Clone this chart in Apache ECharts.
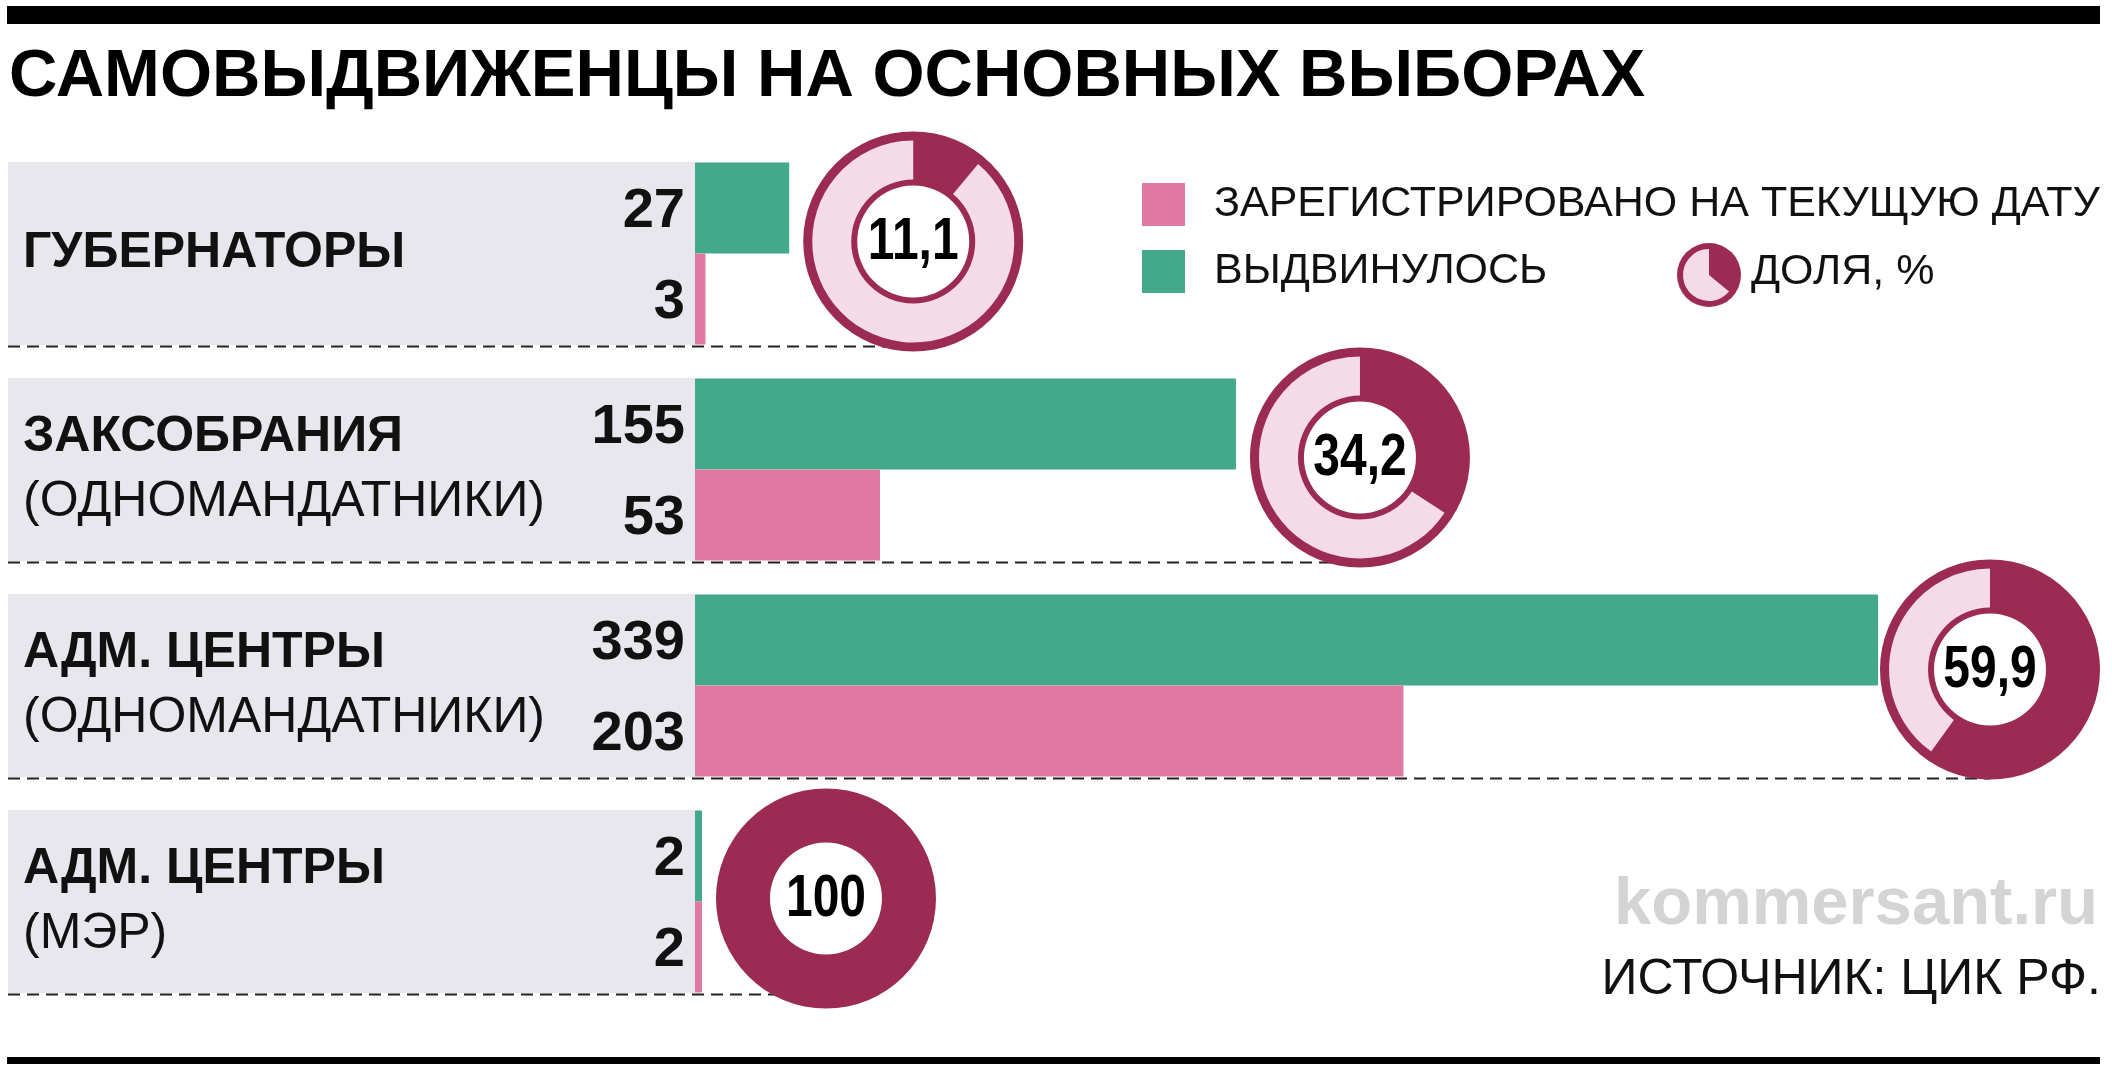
<!DOCTYPE html>
<html>
<head>
<meta charset="utf-8">
<script src="https://cdn.jsdelivr.net/npm/echarts@6/dist/echarts.min.js"></script>
<style>
html,body{margin:0;padding:0;background:#fff;}
#chart{width:2112px;height:1074px;}
</style>
</head>
<body>
<div id="chart"></div>
<script>
// ---- data ----
const categoriesMain = ['ГУБЕРНАТОРЫ', 'ЗАКСОБРАНИЯ', 'АДМ. ЦЕНТРЫ', 'АДМ. ЦЕНТРЫ'];
const categoriesSub = ['', '(ОДНОМАНДАТНИКИ)', '(ОДНОМАНДАТНИКИ)', '(МЭР)'];
const nominated = [27, 155, 339, 2];
const registered = [3, 53, 203, 2];
const shares = [11.1, 34.2, 59.9, 100];
const shareLabels = ['11,1', '34,2', '59,9', '100'];
const legendShare = [36, 64];
const titleText = 'САМОВЫДВИЖЕНЦЫ НА ОСНОВНЫХ ВЫБОРАХ';
const regName = 'ЗАРЕГИСТРИРОВАНО НА ТЕКУЩУЮ ДАТУ';
const nomName = 'ВЫДВИНУЛОСЬ';
const shareName = 'ДОЛЯ, %';
const sourceText = 'ИСТОЧНИК: ЦИК РФ.';
const brandText = 'kommersant.ru';

// ---- style ----
const FONT = '"Liberation Sans", Arial, sans-serif';
const GREEN = '#44a98b';
const PINK = '#df78a3';
const GRAY = '#e7e7ed';
const DARK = '#9b2b52';
const LIGHT = '#f4dbe6';
const PANEL_LEFT = 8;
const PANEL_H = 183;
const R_OUT = 110, R_RING_OUT = 101, R_RING_IN = 62, R_IN = 56;
const DONUT_DY = [-12, -12, -16, -3];

const chart = echarts.init(document.getElementById('chart'), null, {renderer: 'canvas'});
let dashEnd = [null, null, null, null];

function panelSeries() {
  return {
    type: 'custom',
    z: -1,
    clip: false,
    silent: true,
    encode: {x: 0, y: 1},
    data: categoriesMain.map((_, i) => [0, i]),
    renderItem: function (params, api) {
      const i = api.value(1);
      const c = api.coord([0, i]);
      const top = c[1] - PANEL_H / 2;
      const x2 = dashEnd[i] != null ? dashEnd[i] : c[0] + 60;
      return {
        type: 'group',
        children: [
          {type: 'rect', shape: {x: PANEL_LEFT, y: top, width: c[0] - PANEL_LEFT, height: PANEL_H}, style: {fill: GRAY}},
          {type: 'line', shape: {x1: PANEL_LEFT, y1: top + PANEL_H + 1.5, x2: x2, y2: top + PANEL_H + 1.5},
           style: {stroke: '#222', lineWidth: 2, lineDash: [12, 7]}}
        ]
      };
    }
  };
}

const baseGraphic = [
  {type: 'rect', shape: {x: 7, y: 6, width: 2093, height: 18}, style: {fill: '#000'}},
  {type: 'rect', shape: {x: 7, y: 1057, width: 2093, height: 7}, style: {fill: '#000'}},
  {type: 'text', x: 9, y: 78, style: {text: titleText, fontFamily: FONT, fontWeight: 'bold', fontSize: 67, fill: '#000', verticalAlign: 'middle'}},
  {type: 'text', x: 1751, y: 272, style: {text: shareName, fontFamily: FONT, fontSize: 43, fill: '#111', verticalAlign: 'middle'}},
  {type: 'text', x: 2098, y: 906, style: {text: brandText, fontFamily: FONT, fontWeight: 'bold', fontSize: 67, fill: '#d4d4d4', align: 'right', verticalAlign: 'middle'}},
  {type: 'text', x: 2101, y: 980, style: {text: sourceText, fontFamily: FONT, fontSize: 50, fill: '#111', align: 'right', verticalAlign: 'middle'}}
];

const baseOption = {
  backgroundColor: '#fff',
  animation: false,
  grid: {left: 695, top: 145.5, width: 1396, height: 864, containLabel: false},
  xAxis: {type: 'value', min: 0, max: 400, show: false},
  yAxis: {
    type: 'category',
    inverse: true,
    data: categoriesMain,
    z: 5,
    axisLine: {show: false},
    axisTick: {show: false},
    splitLine: {show: false},
    axisLabel: {
      align: 'left',
      margin: 672,
      formatter: function (v, idx) {
        return categoriesSub[idx] ? '{b|' + v + '}\n{r|' + categoriesSub[idx] + '}' : '{b|' + v + '}';
      },
      rich: {
        b: {fontFamily: FONT, fontWeight: 'bold', fontSize: 50, color: '#111', lineHeight: 65},
        r: {fontFamily: FONT, fontWeight: 'normal', fontSize: 50, color: '#111', lineHeight: 65}
      }
    }
  },
  legend: {
    orient: 'vertical',
    left: 1142, top: 183, padding: 0,
    itemWidth: 43, itemHeight: 43, itemGap: 24,
    icon: 'rect',
    selectedMode: false,
    data: [regName, nomName],
    textStyle: {fontFamily: FONT, fontSize: 43, color: '#111', padding: [0, 0, 0, 24]}
  },
  graphic: baseGraphic,
  series: [
    {
      name: nomName, type: 'bar', data: nominated, barWidth: 91, barGap: '0%',
      itemStyle: {color: GREEN},
      label: {show: true, position: 'left', distance: 10, offset: [0, 4], fontFamily: FONT, fontWeight: 'bold', fontSize: 56, color: '#111'}
    },
    {
      name: regName, type: 'bar', data: registered, barWidth: 91, barGap: '0%',
      itemStyle: {color: PINK},
      label: {show: true, position: 'left', distance: 10, offset: [0, 4], fontFamily: FONT, fontWeight: 'bold', fontSize: 56, color: '#111'}
    },
    panelSeries()
  ]
};

chart.setOption(baseOption);

// ---- donuts placed from the library's own scales ----
const donutCenters = nominated.map((v, i) => {
  const end = chart.convertToPixel({xAxisIndex: 0}, Math.max(v, registered[i]));
  const cy = chart.convertToPixel({yAxisIndex: 0}, i);
  const cx = Math.min(end + 14 + R_OUT, 2100 - R_OUT);
  return [cx, cy + DONUT_DY[i]];
});
dashEnd = donutCenters.map(c => c[0]);

const pieSeries = [];
shares.forEach((s, i) => {
  pieSeries.push({
    type: 'pie', silent: true, center: donutCenters[i], radius: [R_IN, R_OUT],
    label: {show: false}, labelLine: {show: false},
    data: [{value: 1, itemStyle: {color: DARK}}]
  });
  pieSeries.push({
    type: 'pie', silent: true, center: donutCenters[i], radius: [R_RING_IN, R_RING_OUT],
    startAngle: 90, clockwise: true, avoidLabelOverlap: false, minAngle: 0,
    label: {show: false}, labelLine: {show: false},
    data: [
      {value: s, itemStyle: {color: DARK}},
      {value: 100 - s, itemStyle: {color: LIGHT}}
    ]
  });
});
// legend share icon
pieSeries.push({
  type: 'pie', silent: true, center: [1709, 275], radius: [0, 32],
  label: {show: false}, labelLine: {show: false},
  data: [{value: 1, itemStyle: {color: DARK}}]
});
pieSeries.push({
  type: 'pie', silent: true, center: [1709, 275], radius: [0, 26],
  startAngle: 90, clockwise: true, label: {show: false}, labelLine: {show: false},
  data: [{value: legendShare[0], itemStyle: {color: DARK}}, {value: legendShare[1], itemStyle: {color: LIGHT}}]
});

// condensed share numbers in the donut centres
const donutTexts = shareLabels.map((t, i) => ({
  type: 'text', z: 100, x: donutCenters[i][0], y: donutCenters[i][1] + 1, scaleX: 0.8,
  style: {text: t, fontFamily: FONT, fontWeight: 'bold', fontSize: 60, fill: '#000', align: 'center', verticalAlign: 'middle'}
}));

chart.setOption({series: baseOption.series.concat(pieSeries), graphic: baseGraphic.concat(donutTexts)}, {replaceMerge: ['series', 'graphic']});
</script>
</body>
</html>
